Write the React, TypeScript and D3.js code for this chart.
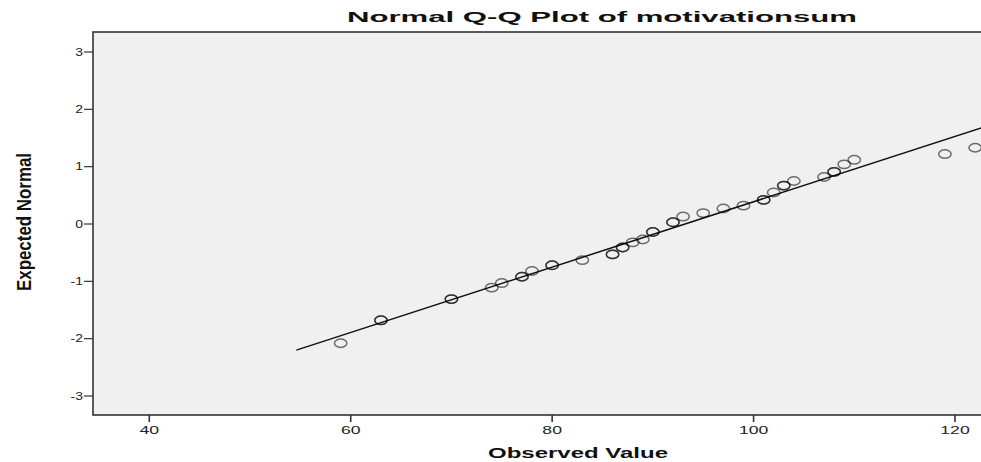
import React, { useEffect } from "react";
import * as d3 from "d3";

const observed = [59, 63, 70, 74, 75, 77, 78, 80, 83, 86, 87, 88, 89, 90, 92, 93, 95, 97, 99, 101, 102, 103, 104, 107, 108, 109, 110, 119, 122];
const expectedNormal = [-2.08, -1.68, -1.31, -1.11, -1.03, -0.92, -0.82, -0.72, -0.63, -0.53, -0.41, -0.32, -0.27, -0.14, 0.03, 0.13, 0.19, 0.27, 0.32, 0.42, 0.55, 0.67, 0.75, 0.82, 0.91, 1.04, 1.12, 1.22, 1.33];
const pointCounts = [1, 2, 2, 1, 1, 2, 1, 2, 1, 2, 2, 1, 1, 2, 2, 1, 1, 1, 1, 2, 1, 2, 1, 1, 2, 1, 1, 1, 1];
const refLineX = [54.6, 126];
const refLineY = [-2.2, 1.87];
const xTicks = [40, 60, 80, 100, 120];
const yTicks = [-3, -2, -1, 0, 1, 2, 3];
const title = "Normal Q-Q Plot of motivationsum";
const xTitle = "Observed Value";
const yTitle = "Expected Normal";

const W = 981;
const H = 462;
const left = 93;
const top = 32;
const bottom = 415;

export default function App() {
  useEffect(() => {
    document.body.style.margin = "0";
  }, []);

  const x = d3.scaleLinear().domain([40, 120]).range([149.3, 955]);
  const y = d3.scaleLinear().domain([-3, 3]).range([396, 52]);
  const right = W + 20;
  const line = d3.line<number>().x((d) => x(refLineX[d])).y((d) => y(refLineY[d]));

  const font = "'Liberation Sans', Arial, sans-serif";
  const circles: JSX.Element[] = [];
  observed.forEach((v, i) => {
    for (let k = 0; k < pointCounts[i]; k++) {
      circles.push(
        <ellipse key={`${i}-${k}`} cx={x(v)} cy={y(expectedNormal[i])} rx={6.2} ry={4.2}
          fill="none" stroke="#000" strokeOpacity={0.55} strokeWidth={1.5} />
      );
    }
  });

  return (
    <svg width={W} height={H} style={{ display: "block", background: "#fff" }} fontFamily={font}>
      <defs>
        <clipPath id="plot"><rect x={left} y={top} width={right - left} height={bottom - top} /></clipPath>
      </defs>
      <text x={347} y={22} fontSize={15} fontWeight="bold" textLength={510} lengthAdjust="spacingAndGlyphs" fill="#111">{title}</text>
      <rect x={left} y={top} width={right - left} height={bottom - top} fill="#f0f0f0" stroke="#333" strokeWidth={1.6} />
      {yTicks.map((t) => (
        <g key={`y${t}`}>
          <line x1={left - 9} x2={left} y1={y(t)} y2={y(t)} stroke="#333" strokeWidth={1.2} />
          <text transform={`translate(${left - 10},${y(t) + 3.5}) scale(1.4,1)`} textAnchor="end" fontSize={10} fill="#222">{String(t)}</text>
        </g>
      ))}
      {xTicks.map((t) => (
        <g key={`x${t}`}>
          <line x1={x(t)} x2={x(t)} y1={bottom} y2={bottom + 7} stroke="#333" strokeWidth={1.6} />
          <text transform={`translate(${x(t)},${bottom + 19}) scale(1.6,1)`} textAnchor="middle" fontSize={11} fill="#222">{String(t)}</text>
        </g>
      ))}
      <g clipPath="url(#plot)">
        <path d={line([0, 1]) || ""} fill="none" stroke="#111" strokeWidth={1.5} />
        {circles}
      </g>
      <text x={488} y={458} fontSize={14} fontWeight="bold" textLength={180} lengthAdjust="spacingAndGlyphs" fill="#111">{xTitle}</text>
      <text transform={`translate(31,222) rotate(-90)`} textAnchor="middle" fontSize={21} fontWeight="bold" textLength={138} lengthAdjust="spacingAndGlyphs" fill="#111">{yTitle}</text>
    </svg>
  );
}
